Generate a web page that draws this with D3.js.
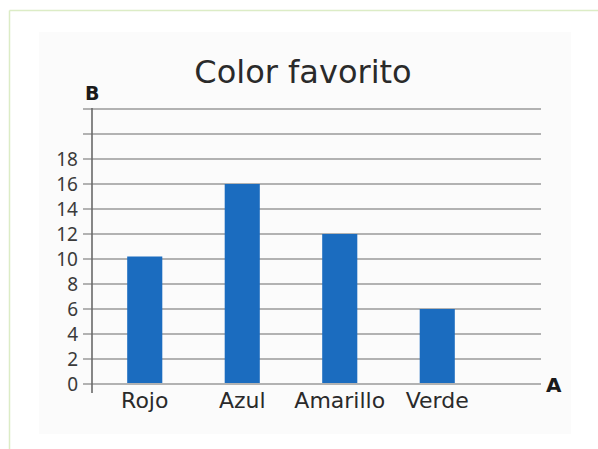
<!DOCTYPE html>
<html><head><meta charset="utf-8">
<script src="https://cdn.jsdelivr.net/npm/d3@7"></script>
<style>html,body{margin:0;padding:0;background:#fff;}svg{display:block;}</style>
</head><body>
<svg id="chart" width="598" height="449"></svg>
<script>
const categories = ["Rojo", "Azul", "Amarillo", "Verde"];
const values = [10.2, 16, 12, 6];
const gridValues = [0, 2, 4, 6, 8, 10, 12, 14, 16, 18, 20, 22];
const tickLabels = ["0", "2", "4", "6", "8", "10", "12", "14", "16", "18"];
const title = "Color favorito";
const yLabel = "B";
const xLabel = "A";

const svg = d3.select("#chart");

// outer border (light green)
svg.append("line").attr("x1", 9.5).attr("x2", 598).attr("y1", 10.5).attr("y2", 10.5)
  .attr("stroke", "#dcecc6").attr("stroke-width", 1.5);
svg.append("line").attr("x1", 9.5).attr("x2", 9.5).attr("y1", 10.5).attr("y2", 449)
  .attr("stroke", "#dcecc6").attr("stroke-width", 1.5);

// panel
svg.append("rect").attr("x", 39).attr("y", 32).attr("width", 532).attr("height", 402).attr("fill", "#fbfbfb");

const y = d3.scaleLinear().domain([0, 22]).range([384, 109]);
const x = d3.scaleBand().domain(categories).range([96, 486]).paddingInner(0.64).paddingOuter(0.32);

// grid lines
svg.append("g").selectAll("line").data(gridValues).join("line")
  .attr("x1", 83).attr("x2", 541)
  .attr("y1", d => y(d)).attr("y2", d => y(d))
  .attr("stroke", "#9a9a9a").attr("stroke-width", 1.6);

// bars
svg.append("g").selectAll("rect").data(values).join("rect")
  .attr("x", (d, i) => x(categories[i]))
  .attr("width", x.bandwidth())
  .attr("y", d => y(d))
  .attr("height", d => y(0) - y(d) - 1)
  .attr("fill", "#1b6cbf");

// y axis line
svg.append("line").attr("x1", 92).attr("x2", 92).attr("y1", 108).attr("y2", 393)
  .attr("stroke", "#6a6a6a").attr("stroke-width", 1.6);

// tick labels
svg.append("g").selectAll("text").data(tickLabels).join("text")
  .attr("x", 78).attr("y", d => y(+d))
  .attr("dy", "0.36em")
  .attr("text-anchor", "end")
  .attr("font-family", "'Noto Sans', sans-serif")
  .attr("font-size", 19)
  .attr("fill", "#3a3a3a")
  .text(d => d);

// category labels
svg.append("g").selectAll("text").data(categories).join("text")
  .attr("x", d => x(d) + x.bandwidth() / 2)
  .attr("y", 408)
  .attr("text-anchor", "middle")
  .attr("font-family", "'DejaVu Sans', sans-serif")
  .attr("font-size", 22)
  .attr("fill", "#2a2a2a")
  .text(d => d);

// title
svg.append("text").attr("x", 303).attr("y", 83)
  .attr("text-anchor", "middle")
  .attr("font-family", "'DejaVu Sans', sans-serif")
  .attr("font-size", 32)
  .attr("fill", "#2a2a2a")
  .text(title);

// axis letters
svg.append("text").attr("x", 85).attr("y", 100)
  .attr("font-family", "'DejaVu Sans', sans-serif").attr("font-weight", "bold")
  .attr("font-size", 19).attr("fill", "#1a1a1a").text(yLabel);
svg.append("text").attr("x", 546).attr("y", 392)
  .attr("font-family", "'DejaVu Sans', sans-serif").attr("font-weight", "bold")
  .attr("font-size", 20).attr("fill", "#1a1a1a").text(xLabel);
</script>
</body></html>
